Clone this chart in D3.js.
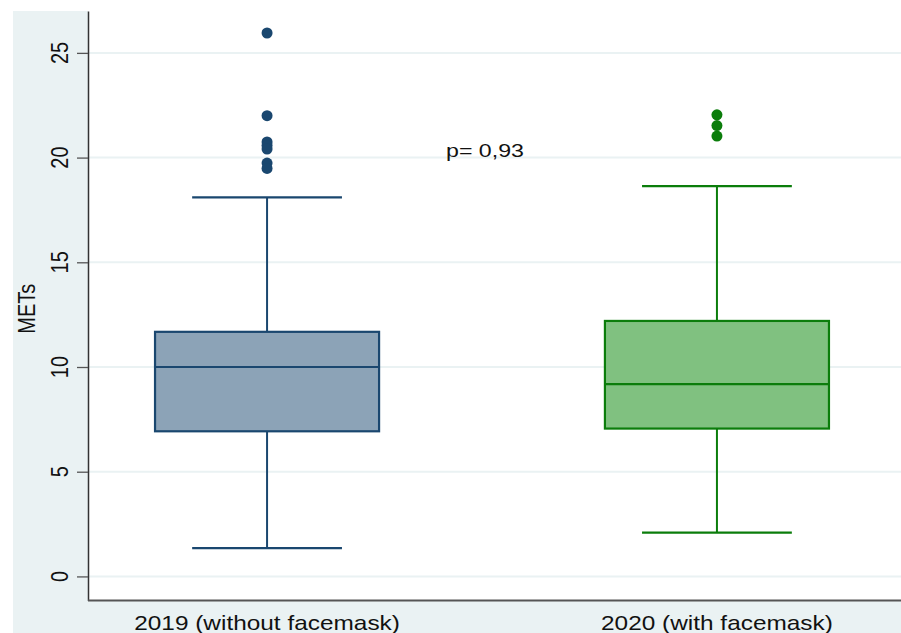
<!DOCTYPE html>
<html>
<head>
<meta charset="utf-8">
<script src="https://cdn.jsdelivr.net/npm/d3@7"></script>
<style>
  html, body { margin: 0; padding: 0; background: #fff; }
  svg { display: block; font-family: "Liberation Sans", Arial, sans-serif; }
</style>
</head>
<body>
<svg id="chart" width="901" height="633"></svg>
<script>
// Groups on the x axis
const categories = ["2019 (without facemask)", "2020 (with facemask)"];
// Five-number summaries (METs)
const lowerWhisker = [1.35, 2.09];
const q1 = [6.93, 7.06];
const median = [10.0, 9.18];
const q3 = [11.68, 12.2];
const upperWhisker = [18.1, 18.64];
// Values beyond the whiskers
const outliers2019 = [25.95, 22.0, 20.75, 20.58, 20.41, 19.74, 19.48];
const outliers2020 = [22.04, 21.53, 21.03];
const outliers = [outliers2019, outliers2020];
// Y axis ticks
const yTicks = [0, 5, 10, 15, 20, 25];
const yTitle = "METs";
const pLabel = "p= 0,93";

const strokeColors = ["#1a476f", "#0b7d0b"];
const fillColors = ["#8ca3b7", "#80c180"];
const bgColor = "#eaf2f3";
const sx = 1.22; // horizontal glyph stretch

const svg = d3.select("#chart");
const W = 901, H = 633;
const plot = { left: 88, right: 896, top: 11, bottom: 600.5 };

// Outer panel and plot region
svg.append("rect").attr("x", 0).attr("y", 0).attr("width", W).attr("height", H).attr("fill", "#fff");
svg.append("rect").attr("x", 13).attr("y", 11).attr("width", W - 13).attr("height", H - 11).attr("fill", bgColor);
svg.append("rect").attr("x", plot.left).attr("y", 0).attr("width", W - plot.left).attr("height", plot.bottom).attr("fill", "#fff");

const y = d3.scaleLinear().domain([-1.15, 27.0]).range([plot.bottom, plot.top]);
const x = d3.scalePoint().domain(categories).range([plot.left, plot.right]).padding(0.398);
const step = x.step();
const boxW = step * 0.498;
const capW = step * 0.333;

// Gridlines
svg.append("g").selectAll("line").data(yTicks).join("line")
  .attr("x1", plot.left).attr("x2", W)
  .attr("y1", d => y(d)).attr("y2", d => y(d))
  .attr("stroke", bgColor).attr("stroke-width", 2);

// Boxes
const boxes = svg.append("g").selectAll("g").data(categories).join("g");
boxes.each(function(c, i) {
  const g = d3.select(this);
  const cx = x(c);
  const col = strokeColors[i];
  // whiskers
  g.append("line").attr("x1", cx).attr("x2", cx).attr("y1", y(q3[i])).attr("y2", y(upperWhisker[i]))
    .attr("stroke", col).attr("stroke-width", 2);
  g.append("line").attr("x1", cx).attr("x2", cx).attr("y1", y(q1[i])).attr("y2", y(lowerWhisker[i]))
    .attr("stroke", col).attr("stroke-width", 2);
  g.append("line").attr("x1", cx - capW / 2).attr("x2", cx + capW / 2)
    .attr("y1", y(upperWhisker[i])).attr("y2", y(upperWhisker[i])).attr("stroke", col).attr("stroke-width", 2.2);
  g.append("line").attr("x1", cx - capW / 2).attr("x2", cx + capW / 2)
    .attr("y1", y(lowerWhisker[i])).attr("y2", y(lowerWhisker[i])).attr("stroke", col).attr("stroke-width", 2.2);
  // box
  g.append("rect").attr("x", cx - boxW / 2).attr("width", boxW)
    .attr("y", y(q3[i])).attr("height", y(q1[i]) - y(q3[i]))
    .attr("fill", fillColors[i]).attr("stroke", col).attr("stroke-width", 2.2);
  // median
  g.append("line").attr("x1", cx - boxW / 2).attr("x2", cx + boxW / 2)
    .attr("y1", y(median[i])).attr("y2", y(median[i])).attr("stroke", col).attr("stroke-width", 2.2);
  // outliers
  g.selectAll("circle").data(outliers[i]).join("circle")
    .attr("cx", cx).attr("cy", d => y(d)).attr("r", 5.5).attr("fill", col);
});

// Y axis
const yAxis = d3.axisLeft(y).tickValues(yTicks).tickSize(11).tickSizeOuter(0).tickFormat("");
const ay = svg.append("g").attr("transform", `translate(${plot.left},0)`).call(yAxis);
ay.select(".domain").attr("stroke", "#333").attr("stroke-width", 1.5);
ay.selectAll(".tick line").attr("stroke", "#555").attr("stroke-width", 1.3);

// Rotated tick labels
svg.append("g").selectAll("text").data(yTicks).join("text")
  .attr("transform", d => `translate(68,${y(d)}) scale(${sx},1) rotate(-90)`)
  .attr("text-anchor", "middle").attr("font-size", 20).attr("fill", "#111")
  .text(d => d);

// Y axis title
svg.append("text")
  .attr("transform", `translate(35,${(plot.top + plot.bottom) / 2 + 3}) scale(${sx},1) rotate(-90)`)
  .attr("text-anchor", "middle").attr("font-size", 20).attr("fill", "#111")
  .text(yTitle);

// X axis line
svg.append("line").attr("x1", plot.left).attr("x2", W).attr("y1", plot.bottom).attr("y2", plot.bottom)
  .attr("stroke", "#555").attr("stroke-width", 2);

// X category labels
svg.append("g").selectAll("text").data(categories).join("text")
  .attr("transform", d => `translate(${x(d)},630) scale(${sx},1)`)
  .attr("text-anchor", "middle").attr("font-size", 20).attr("fill", "#111")
  .text(d => d);

// p-value annotation
svg.append("text")
  .attr("transform", `translate(446,157) scale(${sx},1)`)
  .attr("font-size", 19).attr("fill", "#111")
  .text(pLabel);
</script>
</body>
</html>
